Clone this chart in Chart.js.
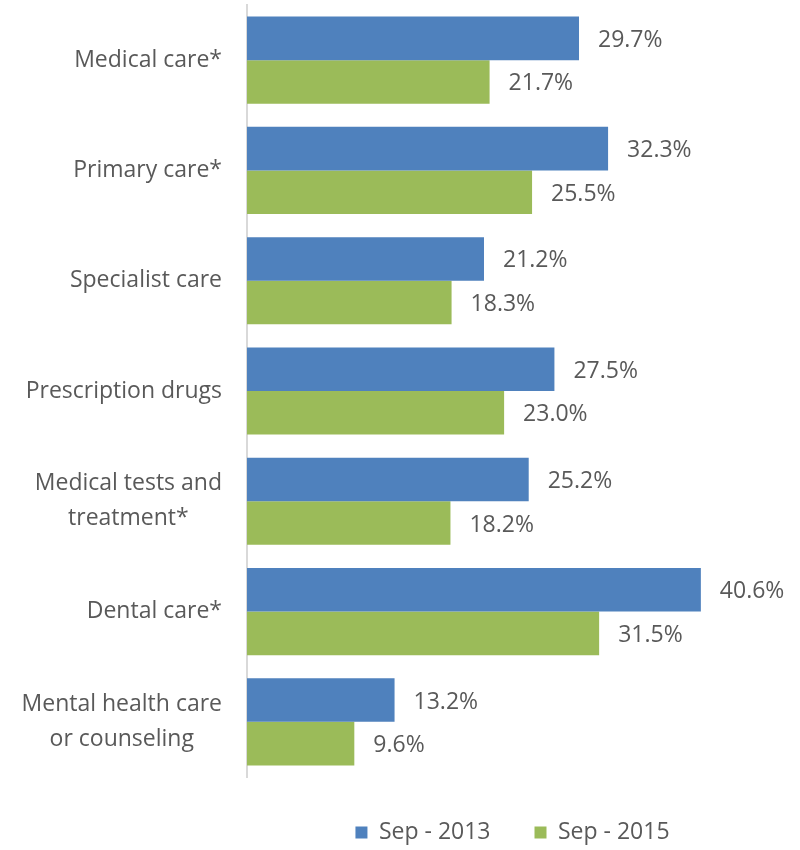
<!DOCTYPE html>
<html>
<head>
<meta charset="utf-8">
<script src="https://cdn.jsdelivr.net/npm/chart.js@4/dist/chart.umd.min.js"></script>
<style>
  body { margin: 0; background: #fff; }
  #wrap { width: 800px; height: 850px; }
</style>
</head>
<body>
<div id="wrap"><canvas id="accessChart" width="800" height="850"></canvas></div>
<script>
const categories = [
    ['Medical care*'],
    ['Primary care*'],
    ['Specialist care'],
    ['Prescription drugs'],
    ['Medical tests and', 'treatment*'],
    ['Dental care*'],
    ['Mental health care', 'or counseling']
];
const sep2013 = [29.7, 32.3, 21.2, 27.5, 25.2, 40.6, 13.2];
const sep2015 = [21.7, 25.5, 18.3, 23.0, 18.2, 31.5, 9.6];
const seriesNames = ['Sep - 2013', 'Sep - 2015'];

const textColor = '#595959';
const fontFamily = '"Open Sans", "Liberation Sans", sans-serif';
const fontSize = 23;
const axisLeft = 247;

// category names: block right-aligned against the axis, lines centred inside it
const categoryLabels = {
    id: 'categoryLabels',
    afterDraw(chart) {
        const { ctx } = chart;
        const yScale = chart.scales.y;
        const right = chart.chartArea.left - 25;
        const lineGap = 35;
        ctx.save();
        ctx.font = fontSize + 'px ' + fontFamily;
        ctx.fillStyle = textColor;
        ctx.textAlign = 'center';
        ctx.textBaseline = 'middle';
        categories.forEach((lines, i) => {
            const y = yScale.getPixelForTick(i);
            const widest = Math.max(...lines.map(l => ctx.measureText(l).width));
            const cx = right - widest / 2;
            const top = y - (lines.length - 1) * lineGap / 2;
            lines.forEach((line, j) => ctx.fillText(line, cx, top + j * lineGap));
        });
        ctx.restore();
    }
};

// percentage labels right of each bar
const valueLabels = {
    id: 'valueLabels',
    afterDatasetsDraw(chart) {
        const { ctx } = chart;
        ctx.save();
        ctx.font = fontSize + 'px ' + fontFamily;
        ctx.fillStyle = textColor;
        ctx.textAlign = 'left';
        ctx.textBaseline = 'middle';
        chart.data.datasets.forEach((ds, di) => {
            chart.getDatasetMeta(di).data.forEach((bar, i) => {
                ctx.fillText(ds.data[i].toFixed(1) + '%', bar.x + 19, bar.y + 2);
            });
        });
        ctx.restore();
    }
};

new Chart(document.getElementById('accessChart'), {
    type: 'bar',
    data: {
        labels: categories,
        datasets: [{
            label: seriesNames[0],
            data: sep2013,
            backgroundColor: '#4f81bd',
            categoryPercentage: 0.79,
            barPercentage: 1.0
        }, {
            label: seriesNames[1],
            data: sep2015,
            backgroundColor: '#9bbb59',
            categoryPercentage: 0.79,
            barPercentage: 1.0
        }]
    },
    options: {
        indexAxis: 'y',
        responsive: false,
        animation: false,
        // left padding keeps the legend centred under the bars
        layout: { padding: { top: 5, right: 22, bottom: -4, left: axisLeft } },
        plugins: {
            legend: {
                position: 'bottom',
                labels: {
                    boxWidth: 12,
                    boxHeight: 12,
                    padding: 44,
                    color: textColor,
                    font: { family: fontFamily, size: fontSize }
                }
            },
            tooltip: { enabled: false }
        },
        scales: {
            x: {
                display: false,
                min: 0,
                max: 47.5
            },
            y: {
                grid: { display: false },
                border: { color: '#d9d9d9', width: 2 },
                ticks: { display: false },
                afterFit: (scale) => { scale.width = 0; }
            }
        }
    },
    plugins: [categoryLabels, valueLabels]
});
</script>
</body>
</html>
